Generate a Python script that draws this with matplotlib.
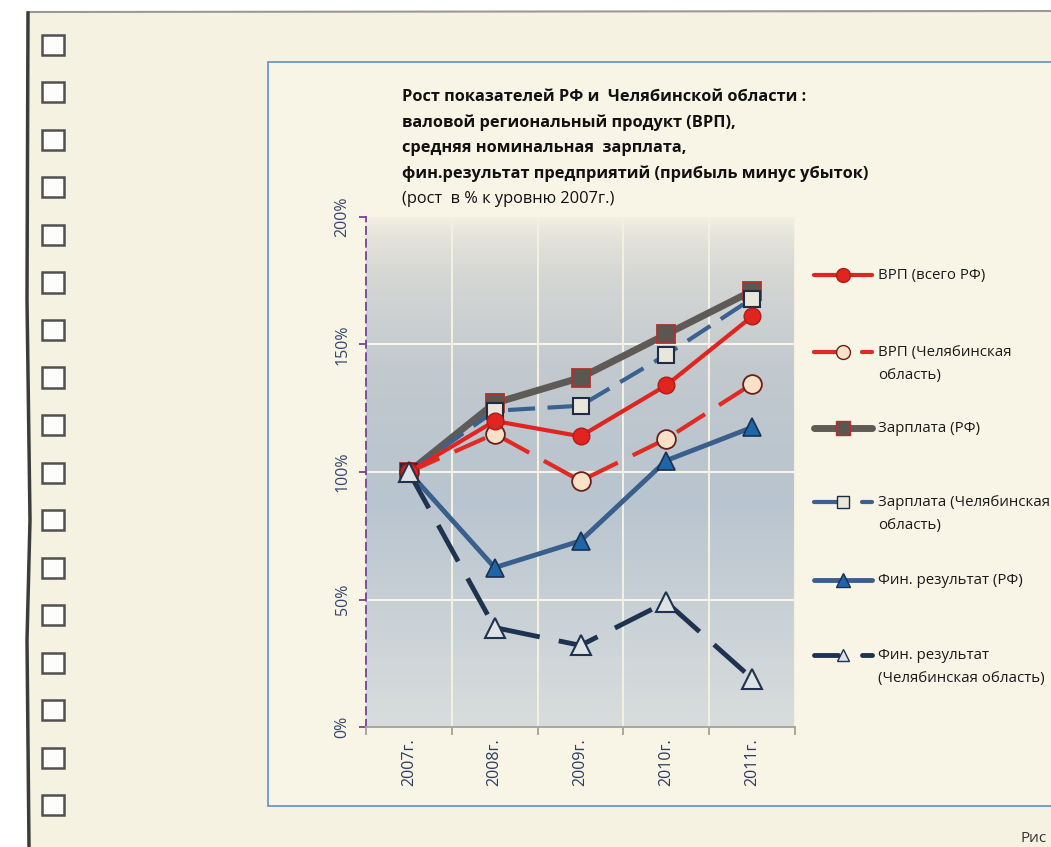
import matplotlib
matplotlib.use("Agg")
import numpy as np
import matplotlib.pyplot as plt
from matplotlib.lines import Line2D
from matplotlib.patches import Rectangle
from matplotlib.colors import LinearSegmentedColormap

plt.rcParams['font.family'] = ['Open Sans', 'DejaVu Sans']

W, H = 1051, 847

years = ["2007г.", "2008г.", "2009г.", "2010г.", "2011г."]
vrp_rf = [100, 120, 114, 134, 161]
vrp_chel = [100, 115, 96.5, 113, 134.5]
zp_rf = [100, 127, 137, 154, 171]
zp_chel = [100, 124, 126, 146, 168]
fin_rf = [100, 62.5, 73, 104.5, 117.5]
fin_chel = [100, 39, 32, 49, 19]
yticks = [0, 50, 100, 150, 200]

title_lines = [
    "Рост показателей РФ и  Челябинской области :",
    "валовой региональный продукт (ВРП),",
    "средняя номинальная  зарплата,",
    "фин.результат предприятий (прибыль минус убыток)",
]
subtitle = "(рост  в % к уровню 2007г.)"


def fx(x):
    return x / W


def fy(y):
    return 1 - y / H


fig = plt.figure(figsize=(W / 100, H / 100), dpi=100, facecolor="white")

# paper sheet
fig.patches.append(Rectangle((fx(28), 0), 1, fy(12), transform=fig.transFigure,
                             facecolor="#f6f2e2", edgecolor="none", zorder=0))
fig.add_artist(Line2D([fx(28), 1], [fy(12), fy(11)], color="#9a9a94", lw=1.5))
fig.add_artist(Line2D([fx(28), fx(27), fx(30), fx(27), fx(29)],
                      [fy(13), fy(300), fy(520), fy(640), 0], color="#3c3c3a", lw=2.5))
for i in range(17):
    yc = 45 + i * 47.5
    fig.patches.append(Rectangle((fx(42), fy(yc + 10)), 22 / W, 20 / H,
                                 transform=fig.transFigure, facecolor="#fdfdfb",
                                 edgecolor="#505050", lw=1.8, zorder=2))

# chart frame
fig.patches.append(Rectangle((fx(268), fy(806)), 1, (806 - 62) / H, transform=fig.transFigure,
                             facecolor="#f8f4e6", edgecolor="#6b98cc", lw=1.3, zorder=1))

ax = fig.add_axes([fx(366), fy(727), (795 - 366) / W, (727 - 217) / H])
ax.set_zorder(5)
ax.set_facecolor("none")

cmap = LinearSegmentedColormap.from_list("bg", [
    (0.0, "#d8dcdc"), (0.1, "#d2d8da"), (0.45, "#b8c4cf"),
    (0.7, "#c2c9ce"), (0.88, "#d4d6d4"), (0.96, "#e4e3da"), (1.0, "#f2efe2")])
grad = np.linspace(0, 1, 256).reshape(-1, 1)
ax.imshow(grad, cmap=cmap, aspect="auto", origin="lower",
          extent=[-0.5, 4.5, 0, 200], zorder=0)

x = np.arange(len(years))
ax.set_xlim(-0.5, 4.5)
ax.set_ylim(0, 200)

for v in [50, 100, 150]:
    ax.axhline(v, color="#f7f5ea", lw=1.5, zorder=1)
for b in np.arange(0.5, 5, 1.0):
    ax.axvline(b, color="#f3f0e0", lw=1.5, zorder=1)

ax.plot(x, zp_rf, color="#5e5b56", lw=5, marker="s", ms=12.5,
        mfc="#5b5750", mec="#b3302c", mew=1.3, zorder=3, solid_capstyle="round")
ax.plot(x, zp_chel, color="#3a6190", lw=3, ls=(0, (6.5, 3)), marker="s", ms=11.5,
        mfc="#e9e7dc", mec="#1e2c44", mew=1.5, zorder=4)
ax.plot(x, vrp_chel, color="#e02a22", lw=3, ls=(0, (8, 4)), marker="o", ms=13.5,
        mfc="#fbe1c8", mec="#6a1f1a", mew=1.3, zorder=5)
ax.plot(x, vrp_rf, color="#e0241f", lw=3, marker="o", ms=12,
        mfc="#e0241f", mec="#b01d19", mew=1.0, zorder=6)
ax.plot(x, fin_rf, color="#3b5f8c", lw=3.5, marker="^", ms=13.5,
        mfc="#1e66a8", mec="#1b2f4f", mew=1.2, zorder=7)
ax.plot(x, fin_chel, color="#1f3350", lw=3.5, ls=(0, (8.5, 4)), marker="^", ms=14,
        mfc="#dfe3e6", mec="#1f3350", mew=1.5, zorder=8)

# axes styling
for s in ["top", "right"]:
    ax.spines[s].set_visible(False)
ax.spines["left"].set_linestyle((0, (4, 3)))
ax.spines["left"].set_color("#7a3f9d")
ax.spines["left"].set_linewidth(1.3)
ax.spines["bottom"].set_color("#a3a39b")
ax.spines["bottom"].set_linewidth(1.3)

ax.set_yticks(yticks)
ax.set_yticklabels([f"{v}%" for v in yticks], rotation=90, va="center",
                   fontsize=11.5, color="#34466a")
ax.tick_params(axis="y", colors="#7a3f9d", length=5, width=1.3, labelcolor="#34466a", pad=6)
ax.set_xticks(x)
ax.set_xticklabels(years, rotation=90, fontsize=11.5, color="#2c3c5c")
ax.tick_params(axis="x", length=0, pad=8)
ax.set_xticks(np.arange(-0.5, 5, 1.0), minor=True)
ax.tick_params(axis="x", which="minor", length=6, width=1.3, color="#a3a39b")

# title
for i, line in enumerate(title_lines):
    fig.text(fx(402), fy(97 + i * 25.5), line, fontsize=11.8, fontweight="bold",
             color="#111111", va="center")
fig.text(fx(402), fy(97 + 4 * 25.5), subtitle, fontsize=11.8, color="#111111", va="center")

# legend
leg = [
    (275, ["ВРП (всего РФ)"], dict(color="#e0241f", lw=3, marker="o", ms=10,
                                   mfc="#e0241f", mec="#b01d19"), False),
    (352, ["ВРП (Челябинская", "область)"], dict(color="#e02a22", lw=3, marker="o", ms=10,
                                               mfc="#fbe1c8", mec="#6a1f1a"), True),
    (428, ["Зарплата (РФ)"], dict(color="#5e5b56", lw=5, marker="s", ms=10,
                                  mfc="#5b5750", mec="#b3302c"), False),
    (502, ["Зарплата (Челябинская", "область)"], dict(color="#3a6190", lw=3, marker="s", ms=9,
                                                    mfc="#e9e7dc", mec="#1e2c44"), True),
    (580, ["Фин. результат (РФ)"], dict(color="#3b5f8c", lw=3.5, marker="^", ms=10,
                                        mfc="#1e66a8", mec="#1b2f4f"), False),
    (655, ["Фин. результат", "(Челябинская область)"], dict(color="#1f3350", lw=3.5, marker="^", ms=9,
                                                           mfc="#dfe3e6", mec="#1f3350"), True),
]
for yy, labels, st, dashed in leg:
    st = dict(st)
    lw = st.pop("lw")
    col = st.pop("color")
    if dashed:
        fig.add_artist(Line2D([fx(814), fx(838)], [fy(yy)] * 2, color=col, lw=lw,
                              solid_capstyle="round"))
        fig.add_artist(Line2D([fx(862), fx(872)], [fy(yy)] * 2, color=col, lw=lw,
                              solid_capstyle="round"))
    else:
        fig.add_artist(Line2D([fx(814), fx(872)], [fy(yy)] * 2, color=col, lw=lw,
                              solid_capstyle="round"))
    fig.add_artist(Line2D([fx(843)], [fy(yy)], ls="none", **st))
    for j, lab in enumerate(labels):
        fig.text(fx(878), fy(yy + j * 23), lab, fontsize=10.8, color="#1a1a1a", va="center")

fig.text(fx(1021), fy(838), "Рис", fontsize=11, color="#333333", va="center")

fig.savefig("out.png", dpi=100, facecolor="white")
